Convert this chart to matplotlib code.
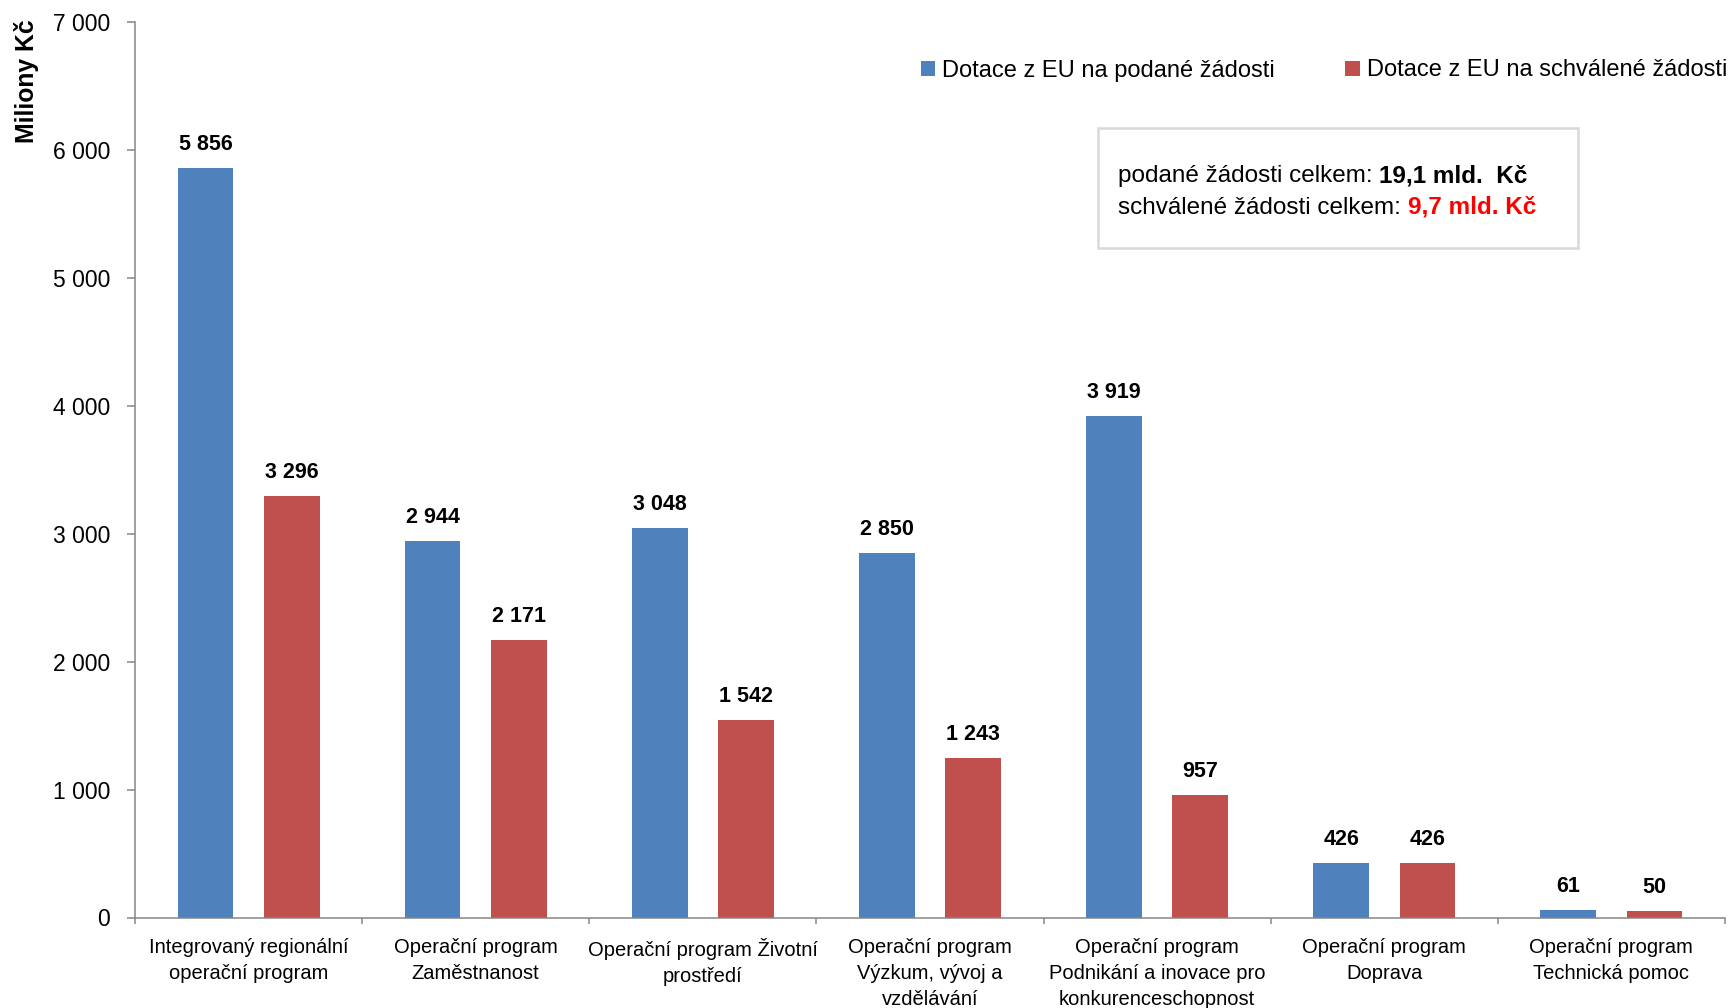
import matplotlib
matplotlib.use("Agg")
import matplotlib.pyplot as plt
import numpy as np
from matplotlib.patches import Rectangle
from matplotlib.ticker import FuncFormatter, FixedLocator

plt.rcParams['font.family'] = ['Liberation Sans', 'DejaVu Sans']

categories = [
    "Integrovaný regionální\noperační program",
    "Operační program\nZaměstnanost",
    "Operační program Životní\nprostředí",
    "Operační program\nVýzkum, vývoj a\nvzdělávání",
    "Operační program\nPodnikání a inovace pro\nkonkurenceschopnost",
    "Operační program\nDoprava",
    "Operační program\nTechnická pomoc",
]
podane = [5856, 2944, 3048, 2850, 3919, 426, 61]
schvalene = [3296, 2171, 1542, 1243, 957, 426, 50]
series_names = ["Dotace z EU na podané žádosti", "Dotace z EU na schválené žádosti"]
yticks = [0, 1000, 2000, 3000, 4000, 5000, 6000, 7000]

BLUE = "#4F81BD"
RED = "#C0504D"
GRAY = "#868686"

W, H = 1731, 1008
fig = plt.figure(figsize=(W / 100, H / 100), dpi=100)
ax = fig.add_axes([135 / W, 1 - 917.5 / H, (1725 - 135) / W, (917.5 - 22) / H])

x = np.arange(len(categories))
bw = 0.245
off = 0.19
b1 = ax.bar(x - off, podane, bw, color=BLUE, label=series_names[0], zorder=2)
b2 = ax.bar(x + off, schvalene, bw, color=RED, label=series_names[1], zorder=2)

def fmt(v):
    return f"{int(v):,}".replace(",", " ")

for bars, vals in ((b1, podane), (b2, schvalene)):
    for rect, v in zip(bars, vals):
        ax.annotate(fmt(v), xy=(rect.get_x() + rect.get_width() / 2, v),
                    xytext=(0, 13), textcoords="offset points",
                    ha="center", va="baseline", fontsize=15.5, fontweight="bold")

ax.set_xlim(-0.5, len(categories) - 0.5)
ax.set_ylim(0, 7000)
ax.set_yticks(yticks)
ax.yaxis.set_major_formatter(FuncFormatter(lambda v, p: fmt(v)))
ax.tick_params(axis="y", direction="out", length=6, width=1.1, color=GRAY,
               labelsize=16.5, pad=12)

ax.set_xticks(x)
ax.set_xticklabels(categories, fontsize=14.5, linespacing=1.45)
ax.xaxis.set_minor_locator(FixedLocator(np.arange(-0.5, len(categories), 1.0)))
ax.tick_params(axis="x", which="major", length=0, pad=15)
ax.tick_params(axis="x", which="minor", direction="out", length=4.5, width=1.1, color=GRAY)

for s in ("top", "right"):
    ax.spines[s].set_visible(False)
for s in ("left", "bottom"):
    ax.spines[s].set_color(GRAY)
    ax.spines[s].set_linewidth(1.1)

fig.text(27 / W, 1 - 81 / H, "Miliony Kč", rotation=90, ha="center", va="center",
         fontsize=17.8, fontweight="bold")

leg = ax.legend(loc="center right", bbox_to_anchor=(1727 / W, 1 - 70.5 / H),
                bbox_transform=fig.transFigure, ncol=2, frameon=False,
                fontsize=17, handlelength=0.6, handleheight=0.6,
                handletextpad=0.3, columnspacing=3.0, borderpad=0, borderaxespad=0)

box = Rectangle((1098 / W, 1 - 248 / H), (1578 - 1098) / W, (248 - 128) / H,
                transform=fig.transFigure, facecolor="white", edgecolor="#D9D9D9",
                linewidth=1.8, zorder=5, clip_on=False)
ax.add_patch(box)

t1 = ax.text(1118 / W, 1 - 176.5 / H, "podané žádosti celkem: ", ha="left", va="center",
             fontsize=17.5, zorder=6, transform=fig.transFigure, clip_on=False)
ax.annotate("19,1 mld.  Kč", xy=(1, 0), xycoords=t1, ha="left", va="bottom",
            fontsize=17.5, fontweight="bold", annotation_clip=False, zorder=6)
t2 = ax.text(1118 / W, 1 - 207.5 / H, "schválené žádosti celkem: ", ha="left", va="center",
             fontsize=17.5, zorder=6, transform=fig.transFigure, clip_on=False)
ax.annotate("9,7 mld. Kč", xy=(1, 0), xycoords=t2, ha="left", va="bottom",
            fontsize=17.5, fontweight="bold", color="#FF0000", annotation_clip=False, zorder=6)

fig.savefig("out.png", dpi=100)
